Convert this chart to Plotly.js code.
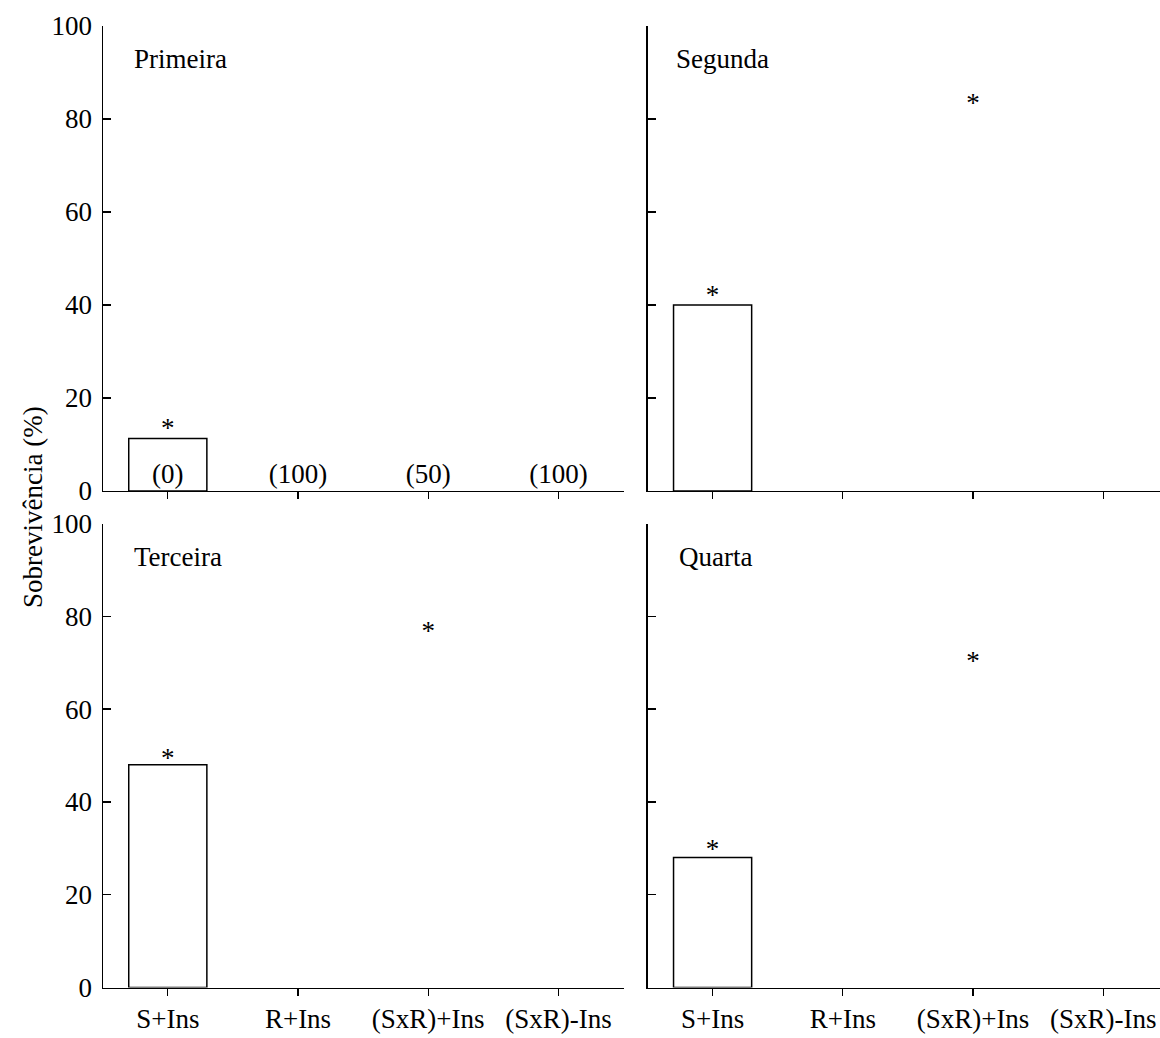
<!DOCTYPE html>
<html>
<head>
<meta charset="utf-8">
<script src="https://cdn.plot.ly/plotly-3.0.1.min.js"></script>
<style>html,body{margin:0;padding:0;background:#fff;}#chart{width:1160px;height:1038px;}</style>
</head>
<body>
<div id="chart"></div>
<script>
// ---- data ----
const categories = ["S+Ins", "R+Ins", "(SxR)+Ins", "(SxR)-Ins"];
const panelNames = ["Primeira", "Segunda", "Terceira", "Quarta"];
const survPrimeira = [11.3, 0, 0, 0];
const survSegunda = [40, 0, 0, 0];
const survTerceira = [48, 0, 0, 0];
const survQuarta = [28, 0, 0, 0];
// significance asterisks: category and height (%)
const starCatPrimeira = ["S+Ins"];
const starYPrimeira = [13.0];
const starCatSegunda = ["S+Ins", "(SxR)+Ins"];
const starYSegunda = [41.6, 83.0];
const starCatTerceira = ["S+Ins", "(SxR)+Ins"];
const starYTerceira = [49.0, 76.4];
const starCatQuarta = ["S+Ins", "(SxR)+Ins"];
const starYQuarta = [29.4, 69.9];
// numbers in parentheses shown in the first panel
const noteLabels = ["(0)", "(100)", "(50)", "(100)"];
const noteY = [3.2, 3.2, 3.2, 3.2];
const yTickVals = [0, 20, 40, 60, 80, 100];
const yTitle = "Sobrevivência (%)";

const FONT = "Liberation Serif, Times New Roman, serif";
const FS = 27;
const surv = [survPrimeira, survSegunda, survTerceira, survQuarta];
const starCats = [starCatPrimeira, starCatSegunda, starCatTerceira, starCatQuarta];
const starYs = [starYPrimeira, starYSegunda, starYTerceira, starYQuarta];
const axes = [["x", "y"], ["x2", "y2"], ["x3", "y3"], ["x4", "y4"]];

const traces = [];
for (let i = 0; i < 4; i++) {
  traces.push({
    type: "bar", x: categories, y: surv[i], xaxis: axes[i][0], yaxis: axes[i][1],
    width: 0.6,
    marker: {color: "#ffffff", line: {color: "#000000", width: surv[i].map(v => v > 0 ? 1.5 : 0)}},
    hoverinfo: "skip", showlegend: false
  });
  traces.push({
    type: "scatter", mode: "text", x: starCats[i], y: starYs[i], text: starCats[i].map(() => "*"),
    textposition: "middle center", textfont: {family: FONT, size: FS, color: "#000"},
    xaxis: axes[i][0], yaxis: axes[i][1], hoverinfo: "skip", showlegend: false
  });
}
traces.push({
  type: "scatter", mode: "text", x: categories, y: noteY, text: noteLabels,
  textposition: "middle center", textfont: {family: FONT, size: FS, color: "#000"},
  xaxis: "x", yaxis: "y", hoverinfo: "skip", showlegend: false
});

const W = 1160, H = 1038;
const leftDom = [102.7 / W, 623.5 / W];
const rightDom = [647.5 / W, 1];
const topDom = [(H - 491) / H, (H - 26) / H];
const botDom = [(H - 987.5) / H, (H - 523.5) / H];

function xa(dom, range, labels, anchor) {
  return {
    domain: dom, range: range, anchor: anchor, type: "category", categoryarray: categories,
    showline: true, linecolor: "#000", linewidth: 1.2, mirror: false,
    ticks: "outside", ticklen: 7, tickwidth: 1.2, tickcolor: "#000",
    showticklabels: labels, tickfont: {family: FONT, size: FS, color: "#000"},
    showgrid: false, zeroline: false, fixedrange: true
  };
}
function ya(dom, labels, anchor) {
  return {
    domain: dom, range: [0, 100], anchor: anchor, tickvals: yTickVals,
    showline: true, linecolor: "#000", linewidth: 1.2,
    ticks: "inside", ticklen: 8, tickwidth: 1.2, tickcolor: "#000",
    showticklabels: labels, tickfont: {family: FONT, size: FS, color: "#000"},
    ticklabelstandoff: 4,
    showgrid: false, zeroline: false, fixedrange: true
  };
}
const rightRange = [-0.5, -0.5 + (W - 647.5) / ((623.5 - 102.7) / 4)];

const panelX = [132, 674, 132, 677];
const panelY = [59, 59, 557, 557];
const annotations = panelNames.map((t, i) => ({
  text: t, xref: "paper", yref: "paper", x: panelX[i] / W, y: (H - panelY[i]) / H,
  xanchor: "left", yanchor: "middle", showarrow: false,
  font: {family: FONT, size: FS, color: "#000"}
}));
annotations.push({
  text: yTitle, xref: "paper", yref: "paper", x: 33 / W, y: (H - 507) / H,
  xanchor: "center", yanchor: "middle", textangle: -90, showarrow: false,
  font: {family: FONT, size: FS, color: "#000"}
});

const layout = {
  width: W, height: H, margin: {l: 0, r: 0, t: 0, b: 0},
  paper_bgcolor: "#fff", plot_bgcolor: "rgba(0,0,0,0)",
  showlegend: false, bargap: 0.4,
  xaxis: xa(leftDom, [-0.5, 3.5], false, "y"),
  yaxis: ya(topDom, true, "x"),
  xaxis2: xa(rightDom, rightRange, false, "y2"),
  yaxis2: ya(topDom, false, "x2"),
  xaxis3: xa(leftDom, [-0.5, 3.5], true, "y3"),
  yaxis3: ya(botDom, true, "x3"),
  xaxis4: xa(rightDom, rightRange, true, "y4"),
  yaxis4: ya(botDom, false, "x4"),
  annotations: annotations
};
Plotly.newPlot("chart", traces, layout, {displayModeBar: false, staticPlot: true});
</script>
</body>
</html>
